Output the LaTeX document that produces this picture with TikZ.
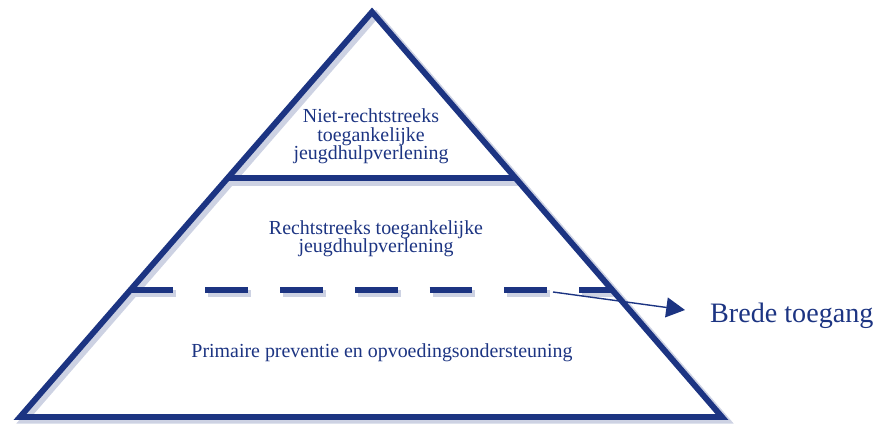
\documentclass[tikz,border=0pt]{standalone}
\usepackage{fontspec}
\setmainfont{Liberation Serif}
\usepackage{tikz}
\usetikzlibrary{arrows.meta,calc}
\definecolor{navy}{RGB}{28,52,130}

\tikzset{
  edge/.style={draw=navy,line width=5pt,line join=miter},
  shade/.style={draw=navy!22,line width=6pt,line join=miter},
  dashline/.style={dash pattern=on 36.5pt off 27.3pt},
  label/.style={text=navy,font=\fontsize{17}{16.2}\selectfont,inner sep=0pt,anchor=base,align=center},
}

\begin{document}
\begin{tikzpicture}[line cap=butt,x=0.03cm,y=0.03cm]
\useasboundingbox (0,0) rectangle (884,424);
\coordinate (top) at (372,412);
\coordinate (bl) at (20,7);
\coordinate (br) at (722,7);
\coordinate (l1) at ($(top)!0.41!(bl)$);
\coordinate (r1) at ($(top)!0.41!(br)$);
\coordinate (l2) at ($(top)!0.686!(bl)$);
\coordinate (r2) at ($(top)!0.686!(br)$);
% soft shadow
\draw[shade] ([shift={(4,-3)}]top) -- ([shift={(4,-3)}]br) -- ([shift={(4,-3)}]bl) -- cycle;
\draw[shade] ([shift={(3,-4)}]l1) -- ([shift={(3,-4)}]r1);
\draw[shade,dashline] ([shift={(3,-4)}]l2) -- ([shift={(3,-4)}]r2);
% pyramid
\draw[edge] (top) -- (br) -- (bl) -- cycle;
\draw[edge] (l1) -- (r1);
\draw[edge,dashline] (l2) -- (r2);
% arrow
\coordinate (from) at (553,132);
\coordinate (tip) at (685,114);
\node[text=navy,font=\fontsize{24}{28}\selectfont,anchor=base west,inner sep=0pt] (brede) at (710,101) {Brede toegang};
\draw[navy,line width=1.2pt,-{Triangle[length=16pt,width=17pt]}] (from) -- (tip);
% labels
\node[label] (top text) at (371,264) {Niet-rechtstreeks\\toegankelijke\\jeugdhulpverlening};
\node[label] (mid text) at (376,171) {Rechtstreeks toegankelijke\\jeugdhulpverlening};
\node[label] (low text) at (382,66) {Primaire preventie en opvoedingsondersteuning};
\end{tikzpicture}
\end{document}
